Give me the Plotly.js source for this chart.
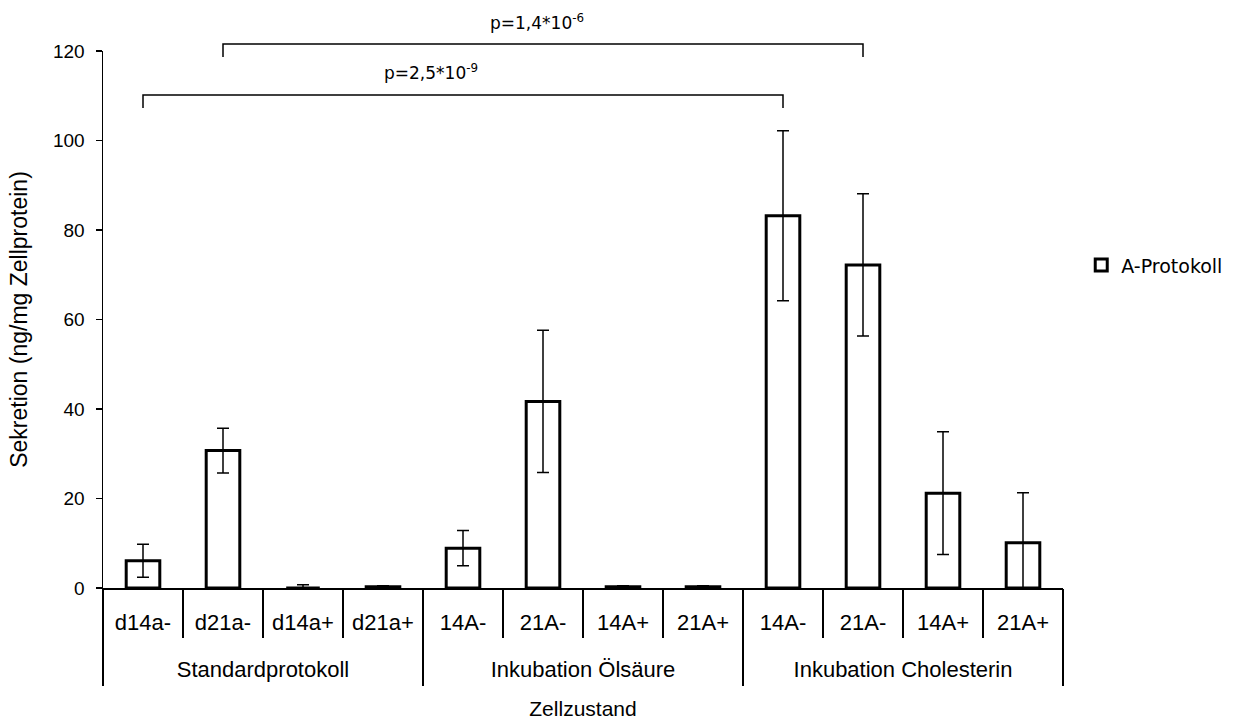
<!DOCTYPE html>
<html>
<head>
<meta charset="utf-8">
<script src="https://cdn.plot.ly/plotly-3.0.1.min.js"></script>
<style>html,body{margin:0;padding:0;background:#fff;}#chart{width:1252px;height:721px;}</style>
</head>
<body>
<div id="chart"></div>
<script>
const categories = ["d14a-", "d21a-", "d14a+", "d21a+", "14A-", "21A-", "14A+", "21A+", "14A-", "21A-", "14A+", "21A+"];
const groups = ["Standardprotokoll", "Inkubation Ölsäure", "Inkubation Cholesterin"];
const groupSize = [4, 4, 4];
const values = [6.1, 30.7, 0, 0.3, 8.9, 41.7, 0.3, 0.3, 83.2, 72.2, 21.2, 10.1];
const errors = [3.7, 5.0, 0.7, 0.2, 3.95, 15.9, 0.2, 0.2, 19.0, 15.9, 13.7, 11.2];
const seriesName = "A-Protokoll";
const yTicks = [0, 20, 40, 60, 80, 100, 120];
const comparisons = [
  {from: 0, to: 8, label: "p=2,5*10<sup>-9</sup>"},
  {from: 1, to: 9, label: "p=1,4*10<sup>-6</sup>"}
];

const idx = categories.map((_, i) => i);
const bounds = [-0.5].concat(idx.map(i => i + 0.5));
const groupBounds = [-0.5];
const groupCenters = [];
let acc = -0.5;
groupSize.forEach(n => { groupCenters.push(acc + n / 2); acc += n; groupBounds.push(acc); });
const xr = [-0.5, categories.length - 0.5];

const AR = "Liberation Sans, Arial, sans-serif";
const TH = "DejaVu Sans, Verdana, sans-serif";

const trace = {
  type: "bar",
  x: idx,
  y: values,
  name: seriesName,
  showlegend: true,
  marker: {color: "#ffffff", line: {color: "#000000", width: 3}},
  error_y: {type: "data", array: errors, visible: true, color: "#000000", thickness: 1.5, width: 6},
  hoverinfo: "skip"
};

const baseX = {range: xr, autorange: false, fixedrange: true, showgrid: false, zeroline: false};

const layout = {
  width: 1252, height: 721,
  margin: {l: 103, r: 189, t: 51, b: 133},
  paper_bgcolor: "#ffffff", plot_bgcolor: "#ffffff",
  bargap: 0.58,
  showlegend: true,
  legend: {x: 1.019, y: 0.601, xanchor: "left", yanchor: "middle", font: {family: TH, size: 19, color: "#000"}, bgcolor: "rgba(0,0,0,0)"},
  xaxis: Object.assign({}, baseX, {
    tickmode: "array", tickvals: idx, ticktext: categories, ticks: "",
    showline: true, linecolor: "#000", linewidth: 1.5,
    tickfont: {family: AR, size: 22, color: "#000"}, ticklabelstandoff: 14
  }),
  xaxis2: Object.assign({}, baseX, {
    overlaying: "x", anchor: "y", side: "bottom",
    tickmode: "array", tickvals: bounds, ticks: "outside", ticklen: 49, tickwidth: 1.2, tickcolor: "#000",
    showticklabels: false, showline: false
  }),
  xaxis3: Object.assign({}, baseX, {
    overlaying: "x", anchor: "y", side: "bottom",
    tickmode: "array", tickvals: groupBounds, ticks: "outside", ticklen: 97, tickwidth: 1.2, tickcolor: "#000",
    showticklabels: false, showline: false
  }),
  xaxis4: Object.assign({}, baseX, {
    overlaying: "x", anchor: "y", side: "bottom",
    tickmode: "array", tickvals: groupCenters, ticktext: groups, ticks: "",
    showline: false,
    tickfont: {family: AR, size: 22, color: "#000"}, ticklabelstandoff: 66,
    title: {text: "Zellzustand", font: {family: AR, size: 21, color: "#000"}, standoff: 20}
  }),
  yaxis: {
    range: [0, 120], autorange: false, fixedrange: true,
    tickmode: "array", tickvals: yTicks,
    ticks: "outside", ticklen: 6, tickwidth: 1.2, tickcolor: "#000",
    showline: true, linecolor: "#000", linewidth: 1.5,
    showgrid: false, zeroline: false,
    tickfont: {family: AR, size: 19, color: "#000"}, ticklabelstandoff: 7,
    title: {text: "Sekretion (ng/mg Zellprotein)", font: {family: AR, size: 23, color: "#000"}, standoff: 19}
  },
  shapes: [],
  annotations: []
};

const bracketY = [[0.918, 0.894, 0.961], [1.013, 0.989, 1.054]];
const labelX = [3.6, 4.92];
comparisons.forEach((c, k) => {
  const [top, end, ty] = bracketY[k];
  layout.shapes.push({
    type: "path", xref: "x", yref: "paper",
    path: `M ${c.from},${end} L ${c.from},${top} L ${c.to},${top} L ${c.to},${end}`,
    line: {color: "#000", width: 1.5}
  });
  layout.annotations.push({
    xref: "x", yref: "paper", x: labelX[k], y: ty, xanchor: "center", yanchor: "middle",
    text: c.label, showarrow: false, font: {family: TH, size: 17, color: "#000"}
  });
});

const dummies = ["x2", "x3", "x4"].map(ax => ({type: "scatter", x: [], y: [], xaxis: ax, yaxis: "y", showlegend: false, hoverinfo: "skip"}));

Plotly.newPlot("chart", [trace].concat(dummies), layout, {staticPlot: true, displayModeBar: false});
</script>
</body>
</html>
